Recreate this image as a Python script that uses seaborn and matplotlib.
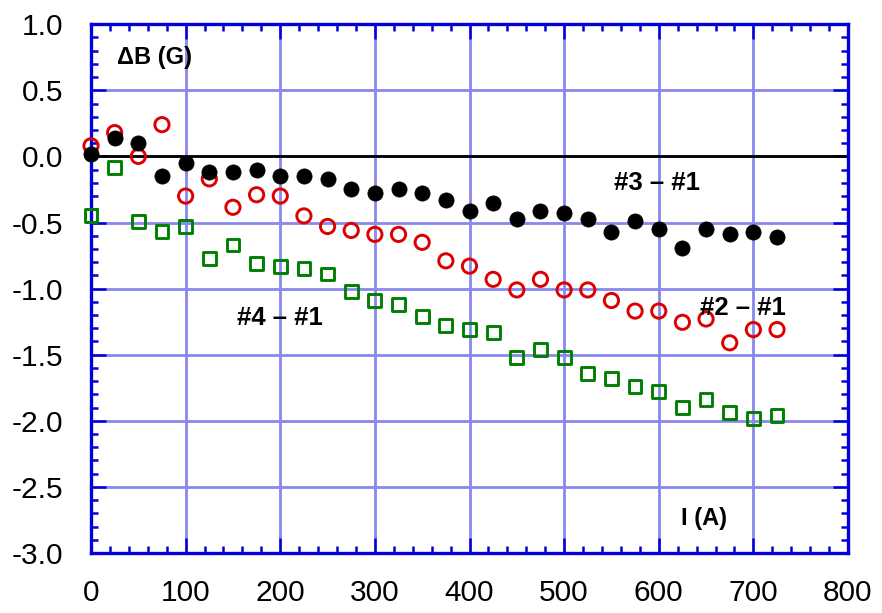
import numpy as np
import pandas as pd
import matplotlib
matplotlib.use("Agg")
import matplotlib.pyplot as plt
import seaborn as sns
from matplotlib.ticker import MultipleLocator

current = [0, 25, 50, 75, 100, 125, 150, 175, 200, 225, 250, 275, 300, 325, 350,
           375, 400, 425, 450, 475, 500, 525, 550, 575, 600, 625, 650, 675, 700, 725]
d31 = [0.02, 0.14, 0.10, -0.15, -0.05, -0.12, -0.12, -0.10, -0.15, -0.15, -0.17, -0.25,
       -0.28, -0.25, -0.28, -0.33, -0.41, -0.35, -0.47, -0.41, -0.43, -0.47, -0.57, -0.49,
       -0.55, -0.69, -0.55, -0.59, -0.57, -0.61]
d21 = [0.08, 0.18, 0.00, 0.24, -0.30, -0.17, -0.385, -0.29, -0.30, -0.45, -0.53, -0.56,
       -0.59, -0.59, -0.65, -0.79, -0.83, -0.93, -1.01, -0.93, -1.01, -1.01, -1.09, -1.17,
       -1.17, -1.255, -1.23, -1.41, -1.31, -1.31]
d41 = [-0.45, -0.085, -0.49, -0.57, -0.53, -0.77, -0.67, -0.81, -0.83, -0.85, -0.89, -1.02,
       -1.09, -1.12, -1.21, -1.28, -1.31, -1.33, -1.52, -1.46, -1.52, -1.64, -1.68, -1.74,
       -1.78, -1.90, -1.84, -1.94, -1.98, -1.96]

xticks = [0, 100, 200, 300, 400, 500, 600, 700, 800]
yticks = [1.0, 0.5, 0.0, -0.5, -1.0, -1.5, -2.0, -2.5, -3.0]

df = pd.DataFrame({"I": current, "d31": d31, "d21": d21, "d41": d41})

sns.set_style("white")
plt.rcParams["font.family"] = ["Liberation Sans", "DejaVu Sans"]
plt.rcParams["text.color"] = "black"
plt.rcParams["xtick.labelcolor"] = "black"
plt.rcParams["ytick.labelcolor"] = "black"

fig = plt.figure(figsize=(8.82, 6.13), dpi=100)
ax = fig.add_axes([91 / 882, 1 - 553 / 613, (848 - 91) / 882, (553 - 24.2) / 613])

spine_c = "#0000dd"
grid_c = "#8888ee"

ax.set_xlim(0, 800)
ax.set_ylim(-3.0, 1.0)
ax.set_xticks(xticks)
ax.set_yticks(yticks)
ax.set_xticklabels([str(t) for t in xticks])
ax.set_yticklabels([f"{t:.1f}" for t in yticks])
ax.xaxis.set_minor_locator(MultipleLocator(20))
ax.yaxis.set_minor_locator(MultipleLocator(0.1))
ax.grid(True, which="major", color=grid_c, linewidth=2.0, zorder=0)
ax.set_axisbelow(True)
for s in ax.spines.values():
    s.set_color(spine_c)
    s.set_linewidth(2.4)
    s.set_visible(True)
ax.tick_params(which="both", direction="in", top=True, right=True, bottom=True, left=True,
               color=spine_c, width=1.8)
ax.tick_params(which="major", length=11)
ax.tick_params(which="minor", length=5)
ax.tick_params(axis="x", which="major", labelsize=21.5, pad=19, labelcolor="black")
ax.tick_params(axis="y", which="major", labelsize=21.5, pad=20, labelcolor="black")

ax.axhline(0, color="black", linewidth=2.0, zorder=1)

sns.scatterplot(data=df, x="I", y="d21", ax=ax, marker="o", s=105,
                facecolor="none", edgecolor="#dd0000", linewidth=2.1, zorder=3, clip_on=False)
sns.scatterplot(data=df, x="I", y="d41", ax=ax, marker="s", s=85,
                facecolor="none", edgecolor="#008000", linewidth=2.1, zorder=3, clip_on=False)
sns.scatterplot(data=df, x="I", y="d31", ax=ax, marker="o", s=120,
                color="black", edgecolor="black", linewidth=0.5, zorder=4, clip_on=False)

ax.set_xlabel("")
ax.set_ylabel("")

tkw = dict(fontweight="bold", va="center", ha="left", color="black")
ax.text(27, 0.75, "ΔB (G)", fontsize=17, **tkw)
ax.text(623, -2.74, "I (A)", fontsize=17, **tkw)
ax.text(553, -0.20, "#3 – #1", fontsize=18.5, **tkw)
ax.text(644, -1.15, "#2 – #1", fontsize=18.5, **tkw)
ax.text(154, -1.22, "#4 – #1", fontsize=18.5, **tkw)

fig.savefig("out.png", dpi=100)
